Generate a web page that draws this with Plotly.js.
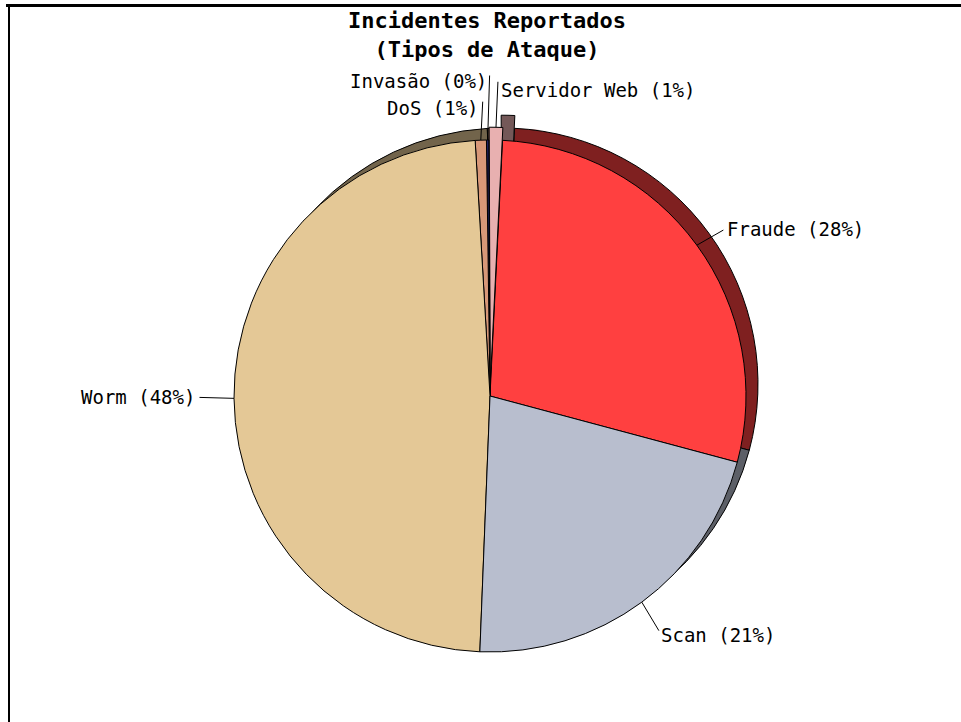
<!DOCTYPE html>
<html><head><meta charset="utf-8">
<script src="https://cdn.plot.ly/plotly-3.0.1.min.js"></script>
<style>html,body{margin:0;padding:0;background:#fff;}</style>
</head><body><div id="chart" style="width:961px;height:722px;"></div>
<script>
// ---- data ----
const categories = ['Fraude', 'Servidor Web', 'Invasão', 'DoS', 'Worm', 'Scan'];
const values = [28.3, 0.85, 0.15, 0.7, 48.3, 21.4];
const titleLines = ['Incidentes Reportados', '(Tipos de Ataque)'];

// ---- styles / layout config ----
const frontColors = ['#FF4040', '#E8B0B0', '#202060', '#D89878', '#E4C896', '#B8BECE'];
const sideColors  = ['#7F2020', '#745858', '#101038', '#6C4C3C', '#72644B', '#5C5F67'];
const pulls = [0, 0.05, 0, 0, 0, 0];
const W = 961, H = 722;
const CX = 490, CY = 396, R = 256, DEPTH = 12, ROT = 105; // ROT: clockwise angle from 12 o'clock where the first slice begins (going counterclockwise)
// leader-line tail offsets (px) from the tip, and label anchor side
const leaderOffsets = [[28, -16], [2, -47], [2, -66], [2, -40], [-36, -1], [18, 30]];
const labelSides    = ['left', 'left', 'right', 'right', 'right', 'left'];
const labelShift    = [[1, 0], [2, 10], [-2, 7], [-3, 8], [-2, 0], [0, 3]];

const total = values.reduce((a, b) => a + b, 0);
const maxPull = Math.max(...pulls);
const D = 2 * R * (1 + maxPull);
function dom(cx, cy) {
  return { x: [(cx - D / 2) / W, (cx + D / 2) / W], y: [(H - cy - D / 2) / H, (H - cy + D / 2) / H] };
}
// Plotly (counterclockwise) places the first slice clockwise of `rotation`
const plotlyRotation = ROT - values[0] / total * 360;

const common = {
  type: 'pie', labels: categories, values: values, sort: false,
  direction: 'counterclockwise', rotation: plotlyRotation, pull: pulls,
  textinfo: 'none', hoverinfo: 'none', showlegend: false
};
const back = Object.assign({}, common, {
  domain: dom(CX + DEPTH, CY - DEPTH),
  marker: { colors: sideColors, line: { color: '#000', width: 1 } }
});
const front = Object.assign({}, common, {
  domain: dom(CX, CY),
  marker: { colors: frontColors, line: { color: '#000', width: 1 } }
});

// labels with leader lines, tips computed from slice angles
const annotations = [];
let a = ROT;
values.forEach((v, i) => {
  const span = v / total * 360;
  const mid = (a - span / 2) * Math.PI / 180;
  a -= span;
  const rr = R * (1 + pulls[i]);
  const px = CX + rr * Math.sin(mid), py = CY - rr * Math.cos(mid);
  const pct = Math.round(v / total * 100);
  const [ox, oy] = leaderOffsets[i];
  // leader line
  annotations.push({
    xref: 'paper', yref: 'paper', x: px / W, y: 1 - py / H,
    ax: ox, ay: oy, text: '',
    showarrow: true, arrowhead: 0, arrowwidth: 1, arrowcolor: '#000',
    standoff: 0, startstandoff: 0
  });
  // label text
  const tx = px + ox + labelShift[i][0], ty = py + oy + labelShift[i][1];
  annotations.push({
    xref: 'paper', yref: 'paper', x: tx / W, y: 1 - ty / H,
    xanchor: labelSides[i] === 'left' ? 'left' : 'right', yanchor: 'middle',
    showarrow: false, borderpad: 0,
    text: categories[i] + ' (' + pct + '%)',
    font: { family: 'DejaVu Sans Mono', size: 19, color: '#000' }
  });
});

const layout = {
  width: W, height: H, autosize: false,
  margin: { l: 0, r: 0, t: 0, b: 0 },
  paper_bgcolor: '#fff',
  title: {
    text: '<b>' + titleLines.join('<br>') + '</b>',
    font: { family: 'DejaVu Sans Mono', size: 22, color: '#000' },
    xref: 'container', yref: 'container', x: 487 / W, xanchor: 'center',
    y: 1 - 28 / H, yanchor: 'top'
  },
  annotations: annotations,
  shapes: [
    { type: 'line', xref: 'paper', yref: 'paper', x0: 6 / W, x1: 1, y0: 1 - 5.5 / H, y1: 1 - 5.5 / H, line: { color: '#000', width: 3 } },
    { type: 'line', xref: 'paper', yref: 'paper', x0: 9 / W, x1: 9 / W, y0: 0, y1: 1 - 4 / H, line: { color: '#000', width: 2 } }
  ]
};

Plotly.newPlot('chart', [back, front], layout, { displayModeBar: false, staticPlot: true });
</script>
</body></html>
